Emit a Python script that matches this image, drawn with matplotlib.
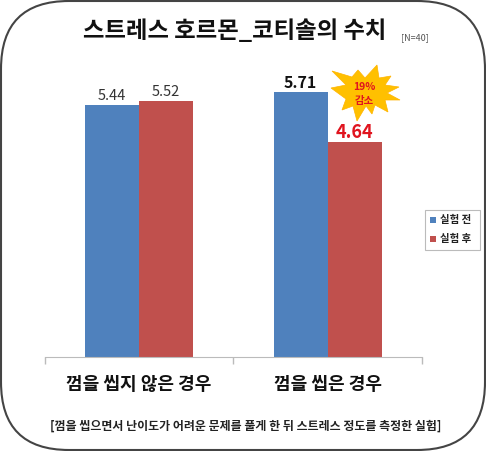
import matplotlib
matplotlib.use('Agg')
import matplotlib.pyplot as plt
from matplotlib.patches import FancyBboxPatch, Polygon, Rectangle
import numpy as np

plt.rcParams['font.family'] = ['Noto Sans CJK KR', 'DejaVu Sans']

categories = ['껌을 씹지 않은 경우', '껌을 씹은 경우']
before = [5.44, 5.71]
after = [5.52, 4.64]
series_names = ['실험 전', '실험 후']
title = '스트레스 호르몬_코티솔의 수치'
note = '[껌을 씹으면서 난이도가 어려운 문제를 풀게 한 뒤 스트레스 정도를 측정한 실험]'

W, H = 486, 451
BLUE, RED = '#4F81BD', '#C0504D'
fig = plt.figure(figsize=(W/100, H/100), dpi=100)
bg = fig.add_axes([0, 0, 1, 1], zorder=0)
bg.set_xlim(0, W); bg.set_ylim(H, 0); bg.axis('off')
frame = FancyBboxPatch((1, 1), 484, 449, boxstyle='round,pad=0,rounding_size=68',
                       fc='white', ec='#444444', lw=1.5, clip_on=False)
bg.add_patch(frame)

ax = fig.add_axes([44.5/W, 1-357/H, (422-44.5)/W, 265/H], zorder=1)
ax.patch.set_alpha(0)
x = np.arange(2)
w = 54/188.75
ax.bar(x-w/2, before, w, color=BLUE)
ax.bar(x+w/2, after, w, color=RED)
ax.set_xlim(-0.5, 1.5)
ax.set_ylim(0, 5.71)
ax.set_yticks([])
for s in ['top', 'left', 'right']:
    ax.spines[s].set_visible(False)
ax.spines['bottom'].set_color('#BBBBBB')
ax.set_xticks([-0.5, 0.5, 1.5])
ax.set_xticklabels([])
ax.tick_params(axis='x', length=5, color='#BBBBBB', width=1)

styles = [
    (x[0]-w/2, before[0], dict(fontsize=10.5, color='#333333'), 1),
    (x[0]+w/2, after[0], dict(fontsize=10.5, color='#333333'), 1),
    (x[1]-w/2, before[1], dict(fontsize=11.5, fontweight='bold', color='#111111'), 1),
    (x[1]+w/2, after[1], dict(fontsize=13, fontweight='bold', color='#E0141E'), 0),
]
for xp, v, st, off in styles:
    t = ax.annotate(f'{v}', (xp, v), xytext=(0, off), textcoords='offset points',
                    ha='center', va='bottom', annotation_clip=False, **st)

over = fig.add_axes([0, 0, 1, 1], zorder=2)
over.set_xlim(0, W); over.set_ylim(H, 0); over.axis('off'); over.patch.set_alpha(0)
over.text(235, 31, title, ha='center', va='center', fontsize=16.8, fontweight='bold', color='#111111')
over.text(415, 38, '[N=40]', ha='center', va='center', fontsize=6.5, color='#555555')
over.text(139, 385, categories[0], ha='center', va='center', fontsize=13, fontweight='bold', color='#111111')
over.text(328, 385, categories[1], ha='center', va='center', fontsize=13, fontweight='bold', color='#111111')
over.text(245.5, 426, note, ha='center', va='center', fontsize=8.6, fontweight='bold', color='#222222')

star = [(377,65),(379,78),(391,76),(385,85),(399,87),(387,93),(400,100),(385,100),(388,112),(375,105),
        (372,114),(366,106),(357,121),(353,106),(342,110),(346,99),(331,88),(346,85),(332,71),(352,77),
        (358,70),(365,78)]
over.add_patch(Polygon(star, closed=True, fc='#FFC000', ec='#FFB400', lw=0.5))
over.text(364, 87, '19%', ha='center', va='center', fontsize=7.5, fontweight='bold', color='#E0141E')
over.text(364, 101, '감소', ha='center', va='center', fontsize=7.5, fontweight='bold', color='#E0141E')

over.add_patch(Rectangle((424.5, 209.5), 55, 40, fc='white', ec='#BBBBBB', lw=0.8))
over.add_patch(Rectangle((430, 217), 6, 6, fc=BLUE, ec='none'))
over.add_patch(Rectangle((430, 236), 6, 6, fc=RED, ec='none'))
over.text(439.5, 220, series_names[0], ha='left', va='center', fontsize=7.5, fontweight='bold', color='#222222')
over.text(439.5, 239, series_names[1], ha='left', va='center', fontsize=7.5, fontweight='bold', color='#222222')

fig.savefig('out.png', dpi=100)
